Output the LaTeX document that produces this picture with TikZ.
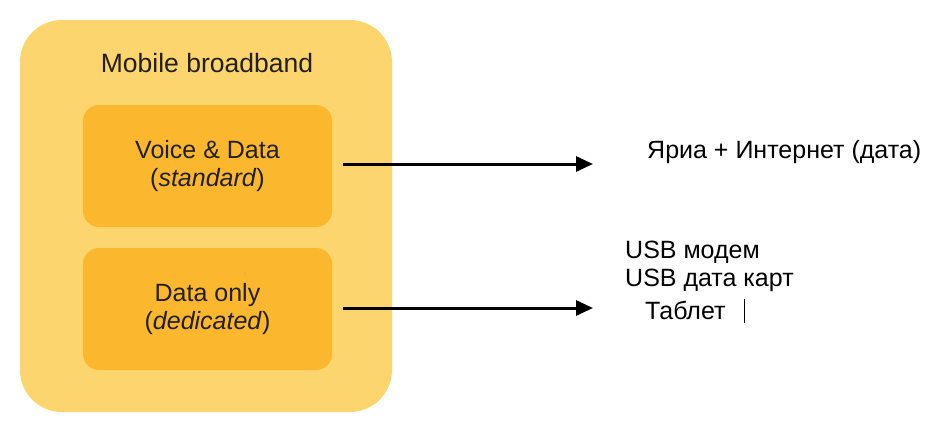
\documentclass[tikz,border=0pt]{standalone}
\usepackage{fontspec}
\setmainfont{Liberation Sans}
\usetikzlibrary{arrows.meta}
\definecolor{outerY}{HTML}{FDD56E}
\definecolor{innerY}{HTML}{FBB82E}
\definecolor{txt}{HTML}{231F1A}
\begin{document}
\begin{tikzpicture}[x=1pt,y=-1pt,
  outerbox/.style={fill=outerY,draw=none,rounded corners=42pt,minimum width=372pt,minimum height=392pt,inner sep=0pt},
  innerbox/.style={fill=innerY,draw=none,rounded corners=16pt,minimum width=249pt,minimum height=122pt,inner sep=0pt,align=center,font=\fontsize{25}{28}\selectfont,text=txt},
  label/.style={font=\fontsize{25}{28}\selectfont,inner sep=0pt,anchor=west,text=black},
  conn/.style={line width=3pt,-{Triangle[length=17pt,width=15pt]}}]
\useasboundingbox (0,0) rectangle (929,424);
\node[outerbox] (outer) at (206,216) {};
\node[font=\fontsize{26.5}{28}\selectfont,text=txt] (title) at (207,63) {Mobile broadband};
\node[innerbox] (vd) at (207.5,166) {Voice \& Data\\(\textit{standard})};
\node[innerbox] (dd) at (207.5,309) {Data only\\(\textit{dedicated})};
\node[label] (t1) at (647,152) {Яриа + Интернет (дата)};
\node[label] (t2) at (625,252) {USB модем};
\node[label] (t3) at (625,280) {USB дата карт};
\node[label] (t4) at (645,310) {Таблет};
\coordinate (s1) at ([xshift=11pt]vd.east |- 0,164);
\coordinate (e1) at (593,164);
\coordinate (s2) at ([xshift=11pt]dd.east |- 0,308);
\coordinate (e2) at (593,308);
\draw[conn] (s1) -- (e1);
\draw[conn] (s2) -- (e2);
\coordinate (c1) at (744,299);
\coordinate (c2) at (744,323);
\draw[line width=0.8pt] (c1) -- (c2);
\end{tikzpicture}
\end{document}
